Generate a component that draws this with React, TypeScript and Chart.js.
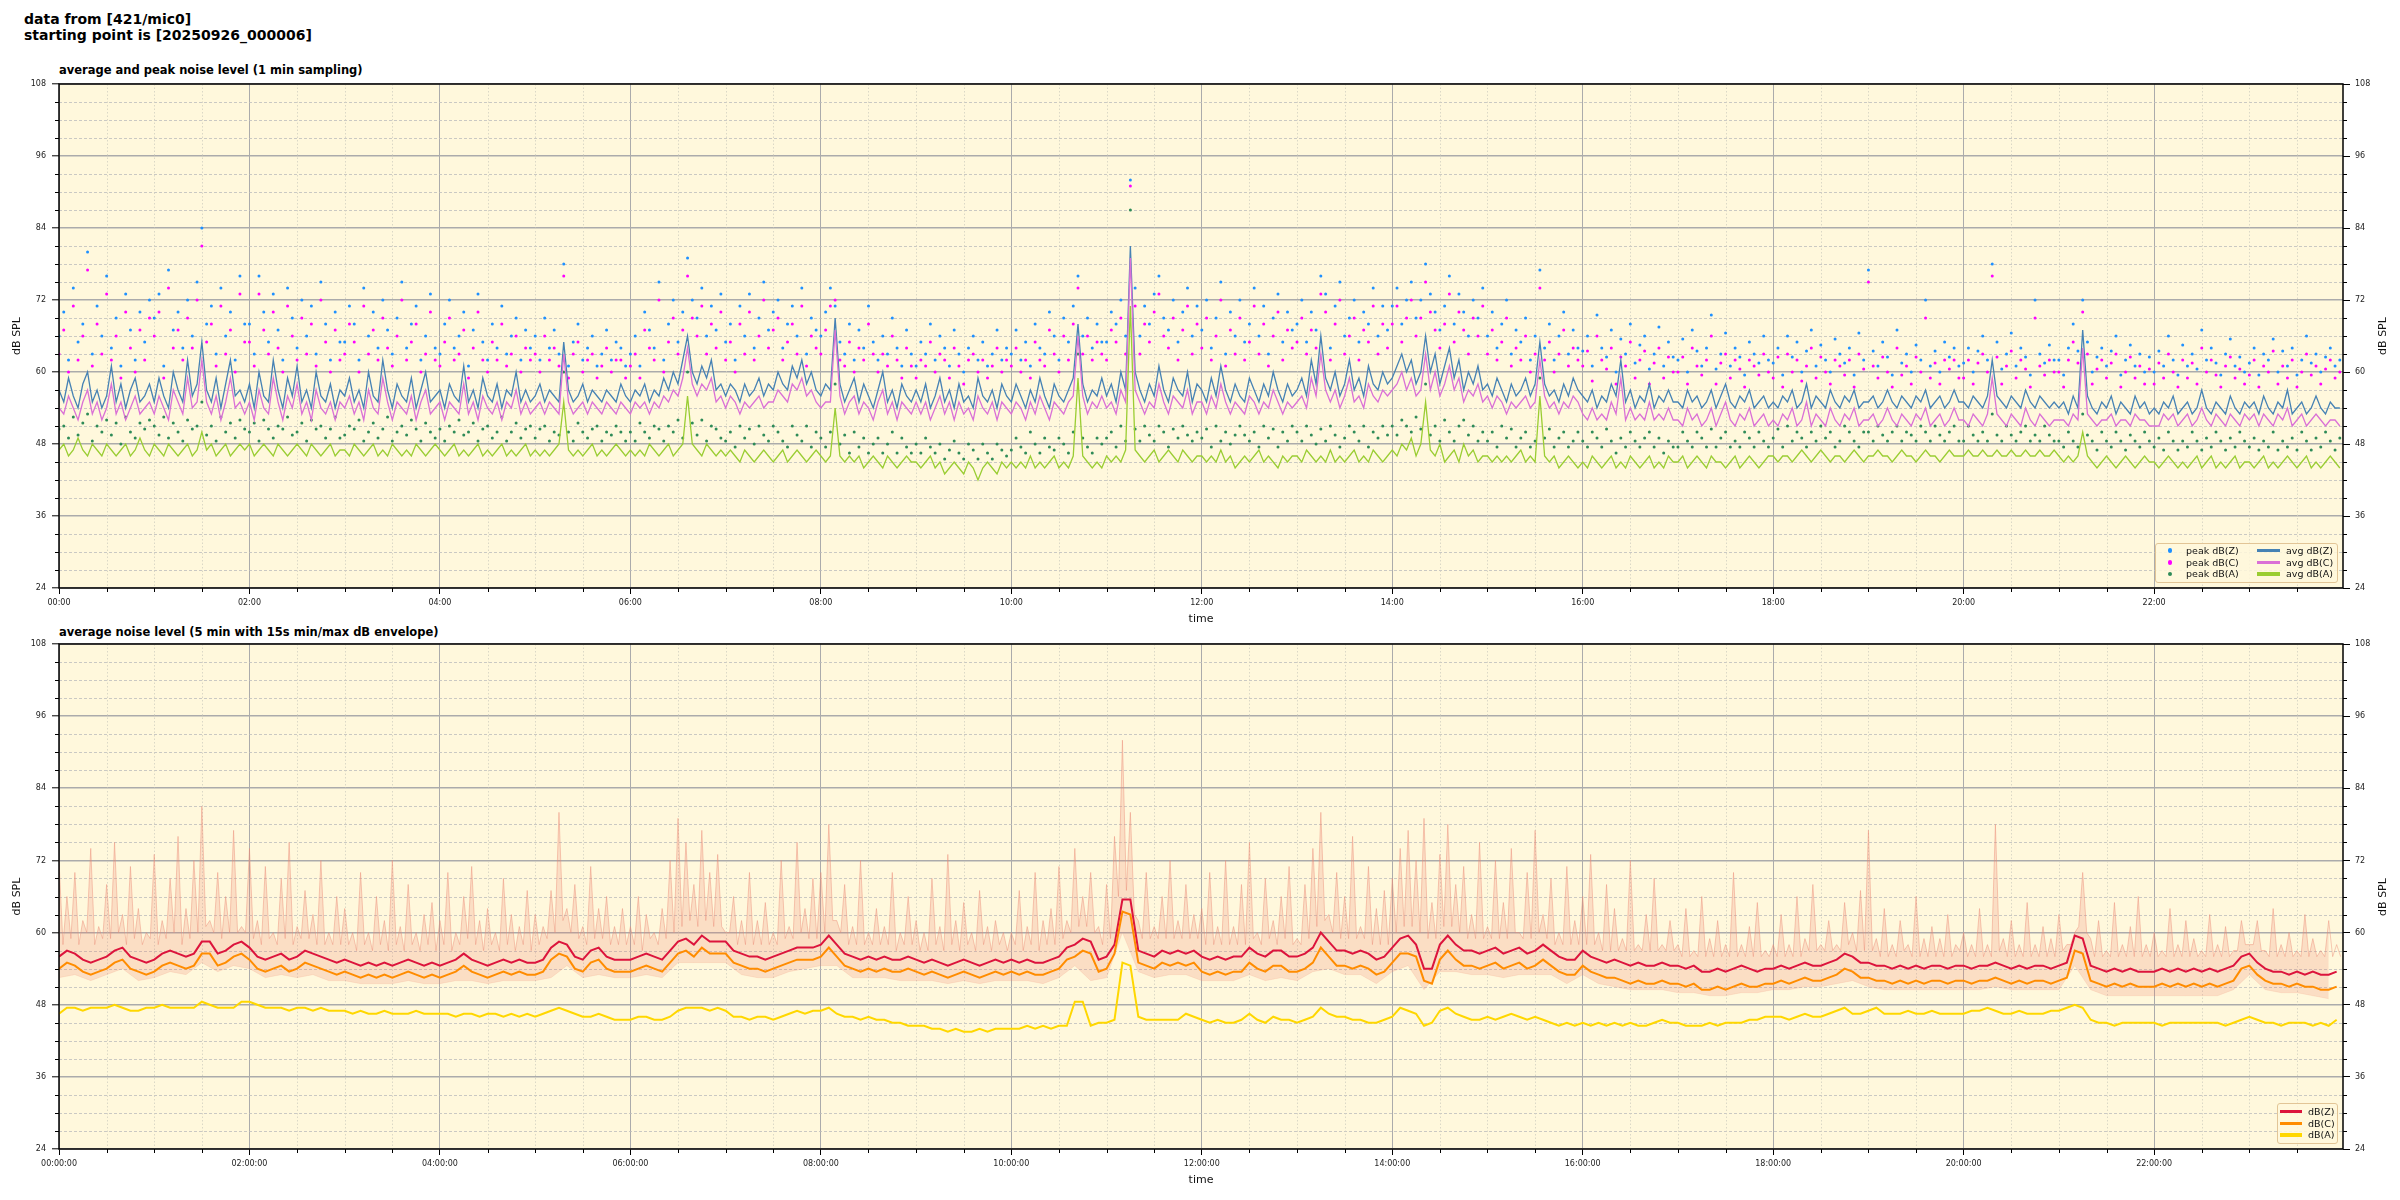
import React, { useEffect, useRef } from "react";
import { Chart, registerables } from "chart.js";
Chart.register(...registerables);

// ---------- data ----------
const TOP_STEP = 3;       // minutes between samples (top panel)
const BOT_STEP = 5;       // minutes between samples (bottom panel lines)
const ENV_MAX_STEP = 2.5; // minutes between envelope max samples
const ENV_MIN_STEP = 10;  // minutes between envelope min samples
const Y_MIN = 24;
const Y_MAX = 108;
const X_MAX = 1439;
const xTickValues = [0, 120, 240, 360, 480, 600, 720, 840, 960, 1080, 1200, 1320];

const avgZ = [
  57,55,59,56,54,58,60,55,57,54,56,61,55,58,54,57,59,55,56,58,
  55,59,56,54,60,57,55,62,56,58,65,57,55,59,54,58,62,56,57,55,
  58,54,60,56,55,62,57,54,59,56,61,55,57,54,60,56,55,58,54,57,
  56,59,55,57,54,60,56,55,62,57,54,58,56,55,59,54,57,60,55,56,
  57,54,58,56,55,61,55,57,54,59,56,55,58,54,57,56,60,55,57,55,
  56,58,55,57,56,55,65,57,55,56,58,55,57,56,55,57,56,55,58,56,
  55,57,56,58,55,57,56,59,57,60,58,62,66,60,58,61,59,62,57,58,
  56,58,57,55,58,56,57,59,56,58,57,60,58,57,61,59,62,58,60,57,
  56,58,57,69,58,55,57,59,55,58,56,54,57,60,55,57,54,58,56,55,
  57,55,58,54,56,59,55,57,54,58,55,56,54,59,56,55,57,54,58,56,
  55,58,56,54,57,55,59,56,54,58,56,55,57,59,68,58,55,57,56,59,
  56,58,55,60,57,81,60,57,55,58,56,61,57,55,59,57,56,60,55,58,
  57,55,59,56,61,57,55,58,56,55,59,57,55,58,56,60,57,55,58,56,
  57,59,56,62,58,66,59,57,60,56,58,62,57,59,56,61,58,57,60,58,
  59,61,63,60,62,58,60,66,60,63,58,61,64,59,62,57,60,58,61,57,
  58,56,59,57,55,58,56,57,59,56,58,65,58,56,57,55,58,56,59,57,
  56,55,57,54,56,55,58,56,62,55,57,54,56,55,58,54,56,55,57,55,
  55,54,57,55,56,54,55,57,54,56,58,55,54,56,55,57,54,55,56,54,
  55,54,56,55,57,54,55,58,54,56,55,54,57,55,54,56,55,57,54,55,
  55,56,54,55,57,55,54,56,55,54,56,55,57,54,55,56,54,55,57,55,
  55,54,56,55,54,56,62,56,55,54,56,55,54,57,55,54,56,55,54,55,
  54,55,53,56,54,67,56,54,53,55,54,56,53,55,54,53,56,54,55,53,
  54,53,55,54,56,53,54,55,53,54,57,54,53,55,54,53,56,54,53,55,
  54,55,53,56,54,53,55,54,57,53,54,55,53,54,56,54,53,55,54,54,
];
const avgC = [
  54,53,56,54,52,55,57,53,55,52,54,58,53,55,52,54,56,53,54,55,
  53,56,54,52,57,55,53,59,54,55,62,55,53,56,52,55,59,54,55,53,
  55,52,57,54,53,59,55,52,56,54,58,53,55,52,57,54,53,55,52,55,
  54,56,53,55,52,57,54,53,59,55,52,55,54,53,56,52,55,57,53,54,
  55,52,55,54,53,58,53,55,52,56,54,53,55,52,55,54,57,53,55,53,
  54,55,53,55,54,53,63,55,53,54,55,53,55,54,53,55,54,53,55,54,
  53,55,54,55,53,55,54,56,55,57,56,59,64,58,56,58,57,59,55,56,
  54,56,55,53,55,54,55,56,54,55,55,57,56,55,58,57,59,56,57,55,
  54,55,55,67,56,53,55,56,53,55,54,52,55,57,53,55,52,55,54,53,
  55,53,55,52,54,56,53,55,52,55,53,54,52,56,54,53,55,52,55,54,
  53,55,54,52,55,53,56,54,52,55,54,53,55,56,66,56,53,55,54,56,
  54,55,53,57,55,79,57,55,53,55,54,58,55,53,56,55,54,57,53,55,
  55,53,56,54,58,55,53,55,54,53,56,55,53,55,54,57,55,53,55,54,
  55,56,54,59,56,63,57,55,57,54,56,59,55,56,54,58,56,55,57,56,
  57,58,60,57,59,56,57,63,57,60,56,58,61,57,59,55,57,56,58,55,
  56,54,56,55,53,55,54,55,56,54,55,62,56,54,55,53,55,54,56,55,
  53,52,54,52,53,52,55,53,59,52,54,52,53,52,55,52,53,52,54,52,
  52,51,54,52,53,51,52,54,51,53,55,52,51,53,52,54,51,52,53,51,
  52,51,53,52,54,51,52,55,51,53,52,51,54,52,51,53,52,54,51,52,
  52,53,51,52,54,52,51,53,52,51,53,52,54,51,52,53,51,52,54,52,
  52,51,53,52,51,53,59,53,52,51,53,52,51,54,52,51,53,52,51,52,
  52,52,51,53,52,64,53,52,51,52,52,53,51,52,52,51,53,52,52,51,
  51,51,53,52,53,51,52,53,51,52,54,52,51,53,52,51,53,52,51,53,
  52,53,51,53,52,51,53,52,54,51,52,53,51,52,53,52,51,52,52,51,
];
const avgA = [
  47,48,46,47,49,47,46,48,47,46,48,47,46,47,48,46,47,49,47,46,
  48,47,46,48,47,46,47,48,46,47,50,47,48,46,47,48,46,47,48,47,
  48,46,47,48,47,46,48,47,46,47,48,47,46,48,47,46,47,48,46,47,
  47,46,48,47,46,47,48,46,47,46,48,47,46,47,46,48,47,46,47,48,
  47,46,47,48,46,47,46,47,48,46,47,46,47,48,46,47,46,47,48,46,
  47,46,47,46,47,48,55,47,46,47,46,47,48,46,47,46,47,48,47,46,
  47,46,47,46,48,47,46,47,48,46,47,48,56,48,47,46,48,47,46,47,
  46,47,46,45,47,46,45,46,47,46,45,46,47,45,46,47,46,45,46,47,
  46,45,46,54,46,45,46,45,46,44,45,46,45,44,46,45,44,45,46,45,
  45,44,45,46,44,45,43,44,45,44,43,45,44,42,44,45,44,43,45,44,
  45,44,45,44,46,44,45,44,45,46,44,45,44,46,59,46,45,44,45,44,
  46,45,46,45,47,71,47,46,45,46,47,45,46,47,46,45,47,46,45,46,
  46,45,46,45,47,45,46,44,45,46,45,46,47,45,46,45,44,46,45,46,
  46,45,47,46,45,46,45,47,45,46,45,46,47,45,46,45,47,46,45,46,
  47,46,48,47,49,46,48,55,47,46,48,45,46,47,45,48,46,47,45,46,
  46,45,46,45,46,45,46,47,45,46,45,56,46,45,46,44,45,46,45,44,
  45,44,46,45,44,45,46,44,45,44,46,45,44,45,46,44,45,44,46,45,
  45,46,44,45,46,45,44,46,45,45,44,45,46,44,45,46,45,44,45,46,
  46,45,46,46,45,46,47,46,45,46,47,46,45,46,46,45,46,47,46,45,
  46,46,47,46,46,45,46,47,46,46,45,46,47,46,46,45,46,47,46,46,
  46,47,46,46,47,46,46,47,46,46,47,46,46,47,46,46,47,46,46,47,
  46,45,46,45,46,50,46,45,44,45,46,45,44,45,46,45,44,45,46,45,
  45,44,45,46,45,44,45,44,45,46,44,45,46,44,45,44,45,46,44,45,
  45,44,45,46,44,45,44,45,46,45,44,45,46,44,45,44,45,46,45,44,
];
const peakZ = [
  66,70,62,74,65,68,80,63,71,66,76,64,69,61,73,67,62,70,65,72,
  69,73,61,77,67,70,64,72,66,75,84,68,71,63,74,66,70,62,76,68,
  68,63,76,70,65,73,67,62,74,69,64,72,66,71,63,75,68,62,70,65,
  65,71,68,62,74,66,70,64,72,67,63,69,75,64,68,71,62,66,73,64,
  63,68,72,64,66,70,61,67,73,65,62,68,64,71,63,66,69,62,67,64,
  66,62,69,64,67,63,78,61,65,68,62,64,66,61,63,67,62,65,64,61,
  63,66,61,70,67,64,75,62,68,72,65,70,79,72,69,74,66,71,67,73,
  65,68,62,71,66,73,64,69,75,67,70,72,64,68,71,66,74,63,69,67,
  66,70,74,71,65,63,68,62,67,64,71,65,62,66,63,69,64,61,67,63,
  61,65,63,68,62,66,64,61,67,63,60,64,66,62,65,61,63,67,62,64,
  63,67,62,65,61,68,64,63,70,66,62,69,65,71,76,66,69,64,68,65,
  65,70,68,72,66,92,74,66,71,68,73,76,69,67,72,65,70,74,66,71,
  67,72,64,69,75,63,70,66,72,65,68,74,66,71,63,69,73,65,70,67,
  68,72,65,70,67,76,73,64,71,75,66,69,72,65,70,68,74,66,71,67,
  71,74,68,72,75,69,72,78,73,70,67,71,76,68,73,70,66,72,69,74,
  66,70,64,68,72,63,67,65,69,62,66,77,64,68,62,66,70,63,67,64,
  63.5,66,61,69.5,64,62.5,67,60,65.5,63,68,61.5,64.5,66,60.5,63,67.5,61,65,62.5,
  62,65.5,60,67,63.5,61,64,69.5,60.5,63,66.5,61,64,62.5,59.5,65,63,61.5,66,62,
  61.5,64,59.5,66,62.5,65,60,63.5,67,61,64.5,62,60,65.5,63,61.5,64,59.5,66.5,62,
  77,63.5,61,65,62.5,59.5,67,61.5,63,60,64.5,62,72,61,63.5,60,65,62.5,64,61,
  61.5,64,60,63.5,66,62,78,65,60.5,63,66.5,61,64,62.5,59.5,72,63,61.5,64.5,62,
  62,59.5,64,68,63.5,72,65,60,62.5,64,61,63.5,66,59.5,62,64.5,61,63,60,62.5,
  60,63.5,61,66,62,59.5,64.5,61,63,60.5,67,62,64,61.5,59.5,63,65.5,61,62.5,60,
  61.5,64,59.5,63,62,65.5,60,63.5,61,64,59.5,62,66,61.5,63,60,62.5,64,61,62,
];
const peakC = [
  63,67,60,71,62,66,77,61,68,63,73,62,66,59,70,64,60,67,62,69,
  66,70,59,74,64,67,62,69,64,72,81,65,68,61,71,63,67,60,73,65,
  65,61,73,67,63,70,64,60,71,66,62,69,63,68,61,72,65,60,67,62,
  63,68,65,60,71,63,67,62,69,64,61,66,72,62,65,68,60,63,70,62,
  61,65,69,62,63,67,59,64,70,62,60,65,62,68,61,63,66,60,64,62,
  63,60,66,62,64,61,76,59,63,65,60,62,63,59,61,64,60,62,62,59,
  61,63,59,67,64,62,72,60,65,69,63,67,76,69,66,71,63,68,64,70,
  62,65,60,68,63,70,62,66,72,64,67,69,62,65,68,63,71,61,66,64,
  63,67,71,72,62,61,65,60,64,62,68,63,60,63,61,66,62,59,64,61,
  59,62,61,65,60,63,62,59,64,61,58,62,63,60,62,59,61,64,60,62,
  61,64,60,62,59,65,62,61,67,63,60,66,62,68,74,63,66,62,65,63,
  62,67,65,69,63,91,71,63,68,65,70,73,66,64,69,62,67,71,63,68,
  64,69,62,66,72,61,67,63,69,62,65,71,63,68,61,66,70,62,67,64,
  65,69,63,67,64,73,70,62,68,72,63,66,69,62,67,65,71,63,68,64,
  68,71,65,69,72,66,69,75,70,67,64,68,73,65,70,67,63,69,66,71,
  63,67,62,65,69,61,64,62,66,60,63,74,62,65,60,63,67,61,64,62,
  61,63.5,58.5,66,62,60.5,64,58,62.5,61,65,59,62,63.5,58,61.5,64,59,62.5,60,
  60,62.5,58,64,61,59.5,62,66,58,61.5,63,59,62,60.5,57.5,62,61,59.5,63,60,
  59,62.5,57.5,63,60,62,58.5,61,64,59,62.5,60,58,62,61,59.5,62,57.5,63,60.5,
  75,61,59,62.5,60,57.5,64,59.5,61,58,62.5,60,69,59,61.5,58,62,60.5,62,59,
  59,62,58,61.5,63,60,76,62.5,58,61,63.5,59,62,60.5,57.5,69,61,59.5,62,60,
  60,57.5,62,65,61.5,70,63,58,60.5,62,59,61.5,63,57.5,60,62.5,59,61,58,60.5,
  58,61.5,59,63,60,57.5,62,59,61.5,58,64,60,62,59.5,57.5,61,62.5,59,60.5,58,
  59.5,62,57.5,61,60,63.5,58,61,59,62,57.5,60,63,59.5,61,58,60.5,62,59,60,
];
const peakA = [
  50.5,51,49,52.5,49.5,51.5,53,48.5,51,50,52,49.5,51.5,48,52.5,50,49,51.5,50.5,52,
  51,49.5,52.5,49,51.5,50,48.5,52,50.5,51,55,49.5,51,48.5,52.5,50,51.5,49,52,50.5,
  50,51.5,48.5,52,50.5,49,51,50.5,52.5,49.5,50,51.5,48.5,52,50.5,51,49,50.5,52.5,49,
  49.5,51,50.5,52,48.5,50,51.5,49,50.5,52.5,48.5,50,51,49.5,52,50.5,48.5,51.5,50,49,
  50.5,48.5,51,50,52,49.5,50,51.5,48.5,50.5,51,49,50,52.5,48.5,50,51.5,49,50.5,51,
  49,50.5,51,48.5,50,49.5,60,50,48.5,51.5,50,49,50.5,51,48.5,50,49.5,51,50,48.5,
  50,48.5,51.5,50,49,51,50.5,48.5,51,50,52,49,60,51.5,49.5,52,48.5,51,50.5,49,
  48.5,50,47.5,51,49,50.5,48,51,49.5,48.5,51,50,48.5,47.5,51,49.5,48.5,51,47.5,50,
  49,47.5,50,58,48,49.5,46.5,50,47.5,49,46.5,48,49,46.5,48,50,46.5,49,47.5,46.5,
  48,46.5,49,47.5,46.5,48,45.5,47,48.5,46.5,45.5,48,47,45.5,48,46.5,45.5,48,47,46,
  47,49,47.5,46.5,50,48,46.5,49,47.5,47,49,48,46.5,50,63,49,47.5,46.5,49,48,
  49,50,47.5,51,48.5,87,50.5,48.5,51,49.5,48.5,51,50,47.5,50.5,49,51,49.5,48.5,50,
  49,50.5,47.5,51,48.5,50,48,49.5,51,49.5,48.5,50,47.5,51,49,50.5,47.5,50,48.5,51,
  50,48.5,51,49.5,48,50.5,48.5,51,49.5,47.5,49,51,50,48.5,51,47.5,50,49,51,49.5,
  51,49.5,52,51,50,52.5,50.5,58,49.5,51,48.5,52,50,48.5,51,52,49.5,51,48.5,50,
  48.5,50,47.5,51,49,50.5,47.5,49,50,47.5,48.5,59,49,50.5,47.5,49,50,47.5,48.5,50,
  48.5,47.5,50,49,47.5,50.5,48.5,46.5,49,47.5,50,48.5,47.5,49,50,47.5,49,46.5,48.5,47.5,
  47.5,50,48.5,47.5,50,49,47.5,50.5,47.5,49,50,47.5,48.5,47.5,50,49,47.5,50,48.5,47.5,
  49,50.5,47.5,51,48.5,50,49,47.5,50,48.5,51,49,50,47.5,48.5,51,50,48.5,47.5,50,
  50,48.5,51,49.5,48.5,50,51,48.5,50,49.5,48.5,51,50,48.5,51,49.5,48.5,50,51,48.5,
  48.5,51,49.5,48.5,50,48.5,53,49.5,48.5,51,49.5,48.5,50,51,48.5,49.5,48.5,51,49.5,48.5,
  48.5,47.5,50,48.5,47.5,53,49.5,48.5,47,50,48.5,47.5,50,48.5,47,49.5,48.5,47.5,50,48.5,
  47.5,49,47,50,48.5,47,48.5,47.5,50,48.5,47,49,47.5,50,48.5,47,49,47.5,50,48.5,
  47.5,49,47,48.5,47.5,50,47,48.5,47.5,49,47,50,48.5,47,49,47.5,50,48.5,47,49,
];

// bottom panel: 5 min averages
const lvlZ = [
  56,57,56.5,55.5,55,55.5,56,57,57.5,56,55.5,55,
  55.5,56.5,57,56.5,56,56.5,58.5,58.5,56.5,57,58,58.5,
  57.5,56,55.5,56,56.5,55.5,56,57,56.5,56,55.5,55,
  55.5,55,54.5,55,54.5,55,54.5,55,55.5,55,54.5,55,
  54.5,55,55.5,56.5,55.5,55,54.5,55,55.5,55,55.5,55,
  55,55.5,57.5,58.5,58,56,55.5,57,57.5,56,55.5,55.5,
  55.5,56,56.5,56,55.5,57,58.5,59,58,59.5,58.5,58.5,
  58.5,57,56.5,56,56,55.5,56,56.5,57,57.5,57.5,57.5,
  58,59.5,58,56.5,56,55.5,56,55.5,56,55.5,55.5,56,
  55.5,55,55.5,55,54.5,55,55.5,55,54.5,55,55.5,55,
  55.5,55,55.5,55,55,55.5,56,57.5,58,59,58.5,55.5,
  56,58,65.5,65.5,57,56.5,56,57,56.5,57,56.5,57,
  56,55.5,56,55.5,56,56,57.5,56.5,56,57,57,56,
  56,56.5,57.5,60,58.5,57,57,56.5,57,56.5,55.5,56,
  57.5,59,59.5,58,54,54,58,59.5,58,57,57,56.5,
  57,57.5,56.5,57,57.5,56.5,57,58,57,56,55.5,55.5,
  57,56,55.5,55,55.5,55,54.5,55,54.5,54.5,55,54.5,
  54.5,54,54.5,53.5,53.5,54,53.5,54,54.5,54,53.5,54,
  54,54.5,54,54.5,55,54.5,54.5,55,55.5,56.5,56,55,
  55,54.5,54.5,54,54.5,54,54.5,54,54.5,54.5,54,54.5,
  54.5,54,54.5,54.5,55,54.5,54,54.5,54,54.5,54.5,54,
  54.5,55,59.5,59,54.5,54,53.5,54,53.5,54,53.5,53.5,
  53.5,54,53.5,54,53.5,54,53.5,54,53.5,54,54.5,56,
  56.5,55,54,53.5,53.5,53,53.5,53,53.5,53,53,53.5,
];
const lvlC = [
  54,55,54.5,53.5,53,53.5,54,55,55.5,54,53.5,53,
  53.5,54.5,55,54.5,54,54.5,56.5,56.5,54.5,55,56,56.5,
  55.5,54,53.5,54,54.5,53.5,54,55,54.5,54,53.5,53,
  53.5,53,52.5,53,52.5,53,52.5,53,53.5,53,52.5,53,
  52.5,53,53.5,54.5,53.5,53,52.5,53,53.5,53,53.5,53,
  53,53.5,55.5,56.5,56,54,53.5,55,55.5,54,53.5,53.5,
  53.5,54,54.5,54,53.5,55,56.5,57,56,57.5,56.5,56.5,
  56.5,55,54.5,54,54,53.5,54,54.5,55,55.5,55.5,55.5,
  56,57.5,56,54.5,54,53.5,54,53.5,54,53.5,53.5,54,
  53.5,53,53.5,53,52.5,53,53.5,53,52.5,53,53.5,53,
  53.5,53,53.5,53,53,53.5,54,55.5,56,57,56.5,53.5,
  54,56.5,63.5,63,55,54.5,54,55,54.5,55,54.5,55,
  53.5,53,53.5,53,53.5,53.5,55,54,53.5,54.5,54.5,53.5,
  53.5,54,55,57.5,56,54.5,54.5,54,54.5,54,53,53.5,
  55,56.5,56.5,56,52,51.5,55.5,57,55.5,54.5,54.5,54,
  54.5,55,54,54.5,55,54,54.5,55.5,54.5,53.5,53,53,
  54.5,53.5,53,52.5,52.5,52,51.5,52,51.5,51.5,52,51.5,
  51.5,51,51.5,50.5,50.5,51,50.5,51,51.5,51,51,51.5,
  51.5,52,51.5,52,52.5,52,52,52.5,53,54,53.5,52.5,
  52.5,52,52,51.5,52,51.5,52,51.5,52,52,51.5,52,
  52,51.5,52,52,52.5,52,51.5,52,51.5,52,52,51.5,
  52,52.5,57,56.5,52,51.5,51,51.5,51,51.5,51,51,
  51,51.5,51,51.5,51,51.5,51,51.5,51,51.5,52,54,
  54.5,53,52,51.5,51.5,51,51.5,51,51,50.5,50.5,51,
];
const lvlA = [
  46.5,47.5,47.5,47,47.5,47.5,47.5,48,47.5,47,47,47.5,
  47.5,48,47.5,47.5,47.5,47.5,48.5,48,47.5,47.5,47.5,48.5,
  48.5,48,47.5,47.5,47.5,47,47.5,47.5,47,47.5,47,47,
  47,46.5,47,46.5,46.5,47,46.5,46.5,46.5,47,46.5,46.5,
  46.5,46.5,46,46.5,46.5,46,46.5,46.5,46,46.5,46,46.5,
  46,46.5,47,47.5,47,46.5,46,46,46.5,46,45.5,45.5,
  45.5,46,46,45.5,45.5,46,47,47.5,47.5,47.5,47,47.5,
  47,46,46,45.5,46,46,45.5,46,46.5,47,46.5,47,
  47,47.5,46.5,46,46,45.5,46,45.5,45.5,45,45,44.5,
  44.5,44.5,44,44,43.5,44,43.5,43.5,44,43.5,44,44,
  44,44,44.5,44,44.5,44,44.5,44.5,48.5,48.5,44.5,45,
  45,45.5,55,54.5,46,45.5,45.5,45.5,45.5,45.5,46.5,46,
  45.5,45,45.5,45,45,45.5,46.5,45.5,45,46,45.5,45.5,
  45,45.5,46,47.5,46.5,46,46,45.5,45.5,45,45,45.5,
  46,47.5,47,46.5,44.5,45,47,47.5,46.5,46,45.5,45.5,
  46,45.5,46,46.5,46,45.5,46,45.5,45,44.5,45,44.5,
  45,44.5,45,44.5,45,44.5,45,44.5,44.5,45,45.5,45,
  45,44.5,44.5,44.5,45,44.5,45,45,45,45.5,45.5,46,
  46,46,45.5,46,46.5,46,46,46.5,47,47.5,46.5,46.5,
  47,47.5,46.5,46.5,46.5,47,46.5,46.5,47,46.5,46.5,46.5,
  46.5,47,47,47.5,47,46.5,46.5,47,46.5,46.5,46.5,47,
  47,47.5,48,47.5,45.5,45,45,44.5,45,45,45,45,
  45,44.5,45,45,45,45,45,45,45,44.5,45,45.5,
  46,45.5,45,45,44.5,45,45,45,44.5,45,44.5,45.5,
];
// 15 s min/max envelope
const envMax = [
  72,58,66,59,70,58,62,60,74,58,61,59,68,59,75,60,63,58,71,59,64,58,60,59,
  73,58,62,59,69,60,76,58,64,59,72,60,81,61,62,60,70,59,66,60,77,60,61,60,
  74,59,62,58,71,59,60,58,69,59,75,58,61,59,67,59,63,58,72,58,60,58,66,58,
  64,58,60,57,70,58,60,57,66,58,62,57,72,58,61,57,68,58,60,57,63,58,65,57,
  62,58,70,57,60,58,66,59,71,58,62,57,64,58,60,57,69,58,63,57,61,58,67,57,
  63,58,61,59,67,60,80,62,64,60,68,59,61,58,71,59,64,59,66,58,61,58,64,58,
  61,58,66,57,63,59,60,58,64,59,72,60,79,61,75,62,68,61,77,62,70,61,73,61,
  60,60,66,58,62,58,70,58,62,58,65,58,60,58,72,59,61,59,75,60,64,59,69,59,
  70,60,78,62,62,60,68,58,61,58,72,58,60,58,64,58,61,58,70,57,60,58,66,58,
  62,57,60,57,69,58,61,57,73,58,62,57,65,58,60,57,67,58,61,57,62,58,60,57,
  60,58,67,57,61,58,70,57,62,58,64,58,71,59,62,60,74,61,66,61,70,60,61,58,
  68,59,76,66,92,67,80,63,62,59,70,59,61,59,66,59,72,59,62,59,68,59,63,59,
  64,58,70,58,61,58,72,58,61,58,68,58,75,59,60,58,69,59,62,58,66,59,71,58,
  59,58,68,59,74,61,80,62,63,60,70,59,66,59,76,59,61,59,71,58,64,58,67,58,
  69,60,74,61,77,61,72,60,79,59,65,59,73,61,78,61,68,60,71,59,63,59,75,59,
  61,59,72,59,65,59,74,60,60,59,70,59,77,60,63,59,69,58,60,58,71,58,62,58,
  66,58,73,58,60,57,68,57,64,57,59,57,72,57,58,57,63,57,69,57,58,57,62,57,
  58,56,64,56,57,56,66,56,59,56,62,56,58,56,70,56,58,56,61,56,65,56,57,56,
  58,56,63,56,58,56,66,56,59,57,68,57,58,57,62,57,58,57,65,58,60,57,67,57,
  77,57,59,56,64,56,58,56,62,57,58,56,66,56,59,56,61,56,59,56,63,56,58,57,
  60,56,58,56,64,56,58,56,78,57,59,56,62,56,58,56,65,56,58,56,61,56,59,56,
  63,57,58,58,60,61,70,60,59,56,62,56,57,56,65,56,58,56,61,56,66,56,58,56,
  60,56,57,56,64,56,58,56,62,56,59,56,57,56,63,56,58,56,61,56,57,57,62,58,
  58,58,62,57,57,56,64,56,58,56,60,56,57,56,63,56,59,56,57,56,62,56,58,56,
];
const envMin = [
  52.5,53,52,53,54,52,
  52.5,53.5,53,55,53.5,54.5,
  54,52.5,53,52.5,53,52,
  52,51.5,51.5,51.5,52,51.5,
  51.5,52,52,51.5,52,52,
  52,52.5,54.5,52.5,53,52.5,
  52.5,53,52.5,55,55,55,
  55,53,52.5,52.5,53.5,54,
  54.5,54.5,52.5,52.5,52.5,52,
  52,52,51.5,52,51.5,52,
  52,52,51.5,52.5,54.5,52,
  52.5,60,53.5,52.5,53,53,
  52,52,52,53,52,52.5,
  52,53.5,54,53,53,51.5,
  53.5,54.5,50.5,53.5,53.5,53,
  53,52.5,53,53,53,51.5,
  53,51.5,51,50.5,50.5,50.5,
  50,50,49.5,49.5,50,50,
  50.5,50.5,51,51,51.5,52,
  51,50.5,50.5,50.5,50.5,50.5,
  50.5,50.5,51,50.5,50.5,50.5,
  50.5,54.5,50.5,49.5,49.5,49.5,
  49.5,49.5,49.5,49.5,49.5,50.5,
  53,50.5,50,50,49.5,49,
];

// ---------- styling ----------
const FONT = "'DejaVu Sans', 'Liberation Sans', sans-serif";
const BG = "#fff8dc";

function fmtTime(v: number, withSec: boolean) {
  const h = Math.floor(v / 60);
  const m = Math.round(v % 60);
  const s = `${String(h).padStart(2, "0")}:${String(m).padStart(2, "0")}`;
  return withSec ? s + ":00" : s;
}
function pts(arr: number[], step: number) {
  return arr.map((y, i) => ({ x: i * step, y }));
}

const gridPlugin = {
  id: "mplGrid",
  beforeDraw(chart: any) {
    const { ctx, chartArea: a } = chart;
    ctx.save();
    ctx.fillStyle = BG;
    ctx.fillRect(a.left, a.top, a.right - a.left, a.bottom - a.top);
    ctx.restore();
  },
  beforeDatasetsDraw(chart: any) {
    const { ctx, chartArea: a, scales } = chart;
    const xs = scales.x;
    const ys = scales.y;
    ctx.save();
    ctx.lineWidth = 0.8;
    ctx.strokeStyle = "#bdbdbd";
    ctx.setLineDash([3, 2]);
    for (let v = Y_MIN + 3; v < Y_MAX; v += 3) {
      if (v % 12 === 0) continue;
      const py = Math.round(ys.getPixelForValue(v)) + 0.5;
      ctx.beginPath();
      ctx.moveTo(a.left, py);
      ctx.lineTo(a.right, py);
      ctx.stroke();
    }
    ctx.strokeStyle = "#d2cfc0";
    ctx.setLineDash([1.5, 2]);
    for (let v = 30; v < X_MAX; v += 30) {
      if (v % 120 === 0) continue;
      const px = Math.round(xs.getPixelForValue(v)) + 0.5;
      ctx.beginPath();
      ctx.moveTo(px, a.top);
      ctx.lineTo(px, a.bottom);
      ctx.stroke();
    }
    ctx.setLineDash([]);
    ctx.strokeStyle = "#000";
    ctx.lineWidth = 1;
    for (let v = Y_MIN + 3; v < Y_MAX; v += 3) {
      if (v % 12 === 0) continue;
      const py = Math.round(ys.getPixelForValue(v)) + 0.5;
      ctx.beginPath();
      ctx.moveTo(a.left - 4, py);
      ctx.lineTo(a.left, py);
      ctx.moveTo(a.right, py);
      ctx.lineTo(a.right + 4, py);
      ctx.stroke();
    }
    for (let v = 30; v < X_MAX; v += 30) {
      if (v % 120 === 0) continue;
      const px = Math.round(xs.getPixelForValue(v)) + 0.5;
      ctx.beginPath();
      ctx.moveTo(px, a.bottom);
      ctx.lineTo(px, a.bottom + 4);
      ctx.stroke();
    }
    ctx.restore();
  },
  afterDatasetsDraw(chart: any) {
    const { ctx, chartArea: a } = chart;
    ctx.save();
    ctx.strokeStyle = "#000";
    ctx.lineWidth = 1.5;
    ctx.strokeRect(a.left, a.top, a.right - a.left, a.bottom - a.top);
    ctx.restore();
  },
};

function makeScales(withSec: boolean) {
  const tickFont = { family: FONT, size: 8 };
  const titleFont = { family: FONT, size: 11 };
  return {
    x: {
      type: "linear",
      min: 0,
      max: X_MAX,
      afterFit: (s: any) => { s.height = 42; },
      afterBuildTicks: (s: any) => { s.ticks = xTickValues.map((v) => ({ value: v })); },
      grid: { color: "#ababab", lineWidth: 1, tickColor: "#000", tickLength: 6, tickWidth: 1 },
      border: { display: false },
      ticks: {
        autoSkip: false, maxRotation: 0, padding: 4,
        color: "#222", font: tickFont, callback: (v: any) => fmtTime(Number(v), withSec),
      },
      title: { display: true, text: "time", color: "#111", font: titleFont, padding: { top: 4, bottom: 4 } },
    },
    y: {
      type: "linear",
      position: "left",
      min: Y_MIN,
      max: Y_MAX,
      afterFit: (s: any) => { s.width = 59; },
      grid: { color: "#ababab", lineWidth: 1.6, tickColor: "#000", tickLength: 7, tickWidth: 1 },
      border: { display: false },
      ticks: { stepSize: 12, padding: 6, color: "#222", font: tickFont },
      title: { display: true, text: "dB SPL", color: "#111", font: titleFont, padding: { top: 11, bottom: 4 } },
    },
    yR: {
      type: "linear",
      position: "right",
      min: Y_MIN,
      max: Y_MAX,
      afterFit: (s: any) => { s.width = 57; },
      grid: { drawOnChartArea: false, tickColor: "#000", tickLength: 7, tickWidth: 1 },
      border: { display: false },
      ticks: { stepSize: 12, padding: 5, color: "#222", font: tickFont },
    },
  };
}

const baseOptions = (withSec: boolean) => ({
  responsive: false,
  animation: false,
  devicePixelRatio: 1,
  layout: { padding: { top: 14, bottom: 0, left: 0, right: 0 } },
  plugins: { legend: { display: false }, tooltip: { enabled: false } },
  elements: { line: { tension: 0 } },
  scales: makeScales(withSec),
});

function lineDs(label: string, data: number[], step: number, color: string, width: number, order: number) {
  return {
    label, data: pts(data, step), borderColor: color, backgroundColor: color,
    borderWidth: width, pointRadius: 0, fill: false, order, yAxisID: "y",
  };
}
function dotDs(label: string, data: number[], color: string, order: number) {
  return {
    label, data: pts(data, TOP_STEP), showLine: false, pointRadius: 1.5, pointBorderWidth: 0,
    pointBackgroundColor: color, borderColor: color, backgroundColor: color, order, yAxisID: "y",
  };
}

function TopChart() {
  const ref = useRef<HTMLCanvasElement>(null);
  useEffect(() => {
    const chart = new Chart(ref.current as HTMLCanvasElement, {
      type: "line",
      data: {
        datasets: [
          lineDs("avg dB(A)", avgA, TOP_STEP, "#9acd32", 1.3, 0),
          lineDs("avg dB(C)", avgC, TOP_STEP, "#da70d6", 1.3, 1),
          lineDs("avg dB(Z)", avgZ, TOP_STEP, "#4682b4", 1.3, 2),
          dotDs("peak dB(A)", peakA, "#2e8b57", 3),
          dotDs("peak dB(C)", peakC, "#ff00ff", 4),
          dotDs("peak dB(Z)", peakZ, "#1e90ff", 5),
        ] as any,
      },
      options: baseOptions(false) as any,
      plugins: [gridPlugin],
    });
    return () => chart.destroy();
  }, []);
  return <canvas ref={ref} width={2400} height={560} style={{ position: "absolute", left: 0, top: 70 }} />;
}

function BottomChart() {
  const ref = useRef<HTMLCanvasElement>(null);
  useEffect(() => {
    const chart = new Chart(ref.current as HTMLCanvasElement, {
      type: "line",
      data: {
        datasets: [
          lineDs("dB(A)", lvlA, BOT_STEP, "#ffd700", 2, 0),
          lineDs("dB(C)", lvlC, BOT_STEP, "#ff8c00", 2, 1),
          lineDs("dB(Z)", lvlZ, BOT_STEP, "#dc143c", 2, 2),
          {
            label: "max", data: pts(envMax, ENV_MAX_STEP), borderColor: "rgba(235,140,120,0.45)",
            borderWidth: 1, pointRadius: 0, fill: "+1", backgroundColor: "rgba(235,120,100,0.2)",
            order: 3, yAxisID: "y",
          },
          {
            label: "min", data: pts(envMin, ENV_MIN_STEP), borderColor: "rgba(240,150,120,0.25)",
            borderWidth: 0.6, pointRadius: 0, fill: false, order: 4, yAxisID: "y",
          },
        ] as any,
      },
      options: baseOptions(true) as any,
      plugins: [gridPlugin],
    });
    return () => chart.destroy();
  }, []);
  return <canvas ref={ref} width={2400} height={561} style={{ position: "absolute", left: 0, top: 630 }} />;
}

const txt = (extra: React.CSSProperties): React.CSSProperties => ({
  position: "absolute", fontFamily: FONT, whiteSpace: "nowrap", color: "#000", ...extra,
});

function LegendRowText({ x, y, text }: { x: number; y: number; text: string }) {
  return <div style={txt({ left: x, top: y - 6, fontSize: 9.5, lineHeight: "12px", color: "#111" })}>{text}</div>;
}
function Swatch({ x, y, w, color }: { x: number; y: number; w: number; color: string }) {
  return <div style={{ position: "absolute", left: x, top: y - 1.75, width: w, height: 3.5, background: color }} />;
}
function Dot({ x, y, color }: { x: number; y: number; color: string }) {
  return <div style={{ position: "absolute", left: x - 2.2, top: y - 2.2, width: 4.4, height: 4.4, borderRadius: "50%", background: color }} />;
}

export default function App() {
  const legendBox: React.CSSProperties = {
    position: "absolute", background: "rgba(255,248,220,0.85)", border: "1px solid #e2c596",
    borderRadius: 3, boxSizing: "border-box",
  };
  return (
    <div style={{ position: "absolute", left: 0, top: 0, width: 2400, height: 1200, background: "#fff", overflow: "hidden" }}>
      <div style={txt({ left: 24, top: 11, fontSize: 14, fontWeight: "bold", lineHeight: "16.3px" })}>
        data from [421/mic0]<br />starting point is [20250926_000006]
      </div>
      <div style={txt({ left: 59, top: 64, fontSize: 11.5, fontWeight: "bold", lineHeight: "13.5px" })}>
        average and peak noise level (1 min sampling)
      </div>
      <div style={txt({ left: 59, top: 625.5, fontSize: 11.5, fontWeight: "bold", lineHeight: "13.5px" })}>
        average noise level (5 min with 15s min/max dB envelope)
      </div>
      <TopChart />
      <BottomChart />
      <div style={txt({ left: 2382, top: 336, fontSize: 11, color: "#111", transform: "translate(-50%,-50%) rotate(-90deg)" })}>dB SPL</div>
      <div style={txt({ left: 2382, top: 896.5, fontSize: 11, color: "#111", transform: "translate(-50%,-50%) rotate(-90deg)" })}>dB SPL</div>

      <div style={{ ...legendBox, left: 2155, top: 543, width: 183, height: 40 }}>
        <Dot x={14} y={6.5} color="#1e90ff" />
        <Dot x={14} y={18.5} color="#ff00ff" />
        <Dot x={14} y={30} color="#2e8b57" />
        <LegendRowText x={30} y={6.5} text="peak dB(Z)" />
        <LegendRowText x={30} y={18.5} text="peak dB(C)" />
        <LegendRowText x={30} y={30} text="peak dB(A)" />
        <Swatch x={101} y={6.5} w={23} color="#4682b4" />
        <Swatch x={101} y={18.5} w={23} color="#da70d6" />
        <Swatch x={101} y={30} w={23} color="#9acd32" />
        <LegendRowText x={130} y={6.5} text="avg dB(Z)" />
        <LegendRowText x={130} y={18.5} text="avg dB(C)" />
        <LegendRowText x={130} y={30} text="avg dB(A)" />
      </div>

      <div style={{ ...legendBox, left: 2277, top: 1103, width: 61, height: 41 }}>
        <Swatch x={1.5} y={7.5} w={22} color="#dc143c" />
        <Swatch x={1.5} y={19.5} w={22} color="#ff8c00" />
        <Swatch x={1.5} y={31} w={22} color="#ffd700" />
        <LegendRowText x={30} y={7.5} text="dB(Z)" />
        <LegendRowText x={30} y={19.5} text="dB(C)" />
        <LegendRowText x={30} y={31} text="dB(A)" />
      </div>
    </div>
  );
}
